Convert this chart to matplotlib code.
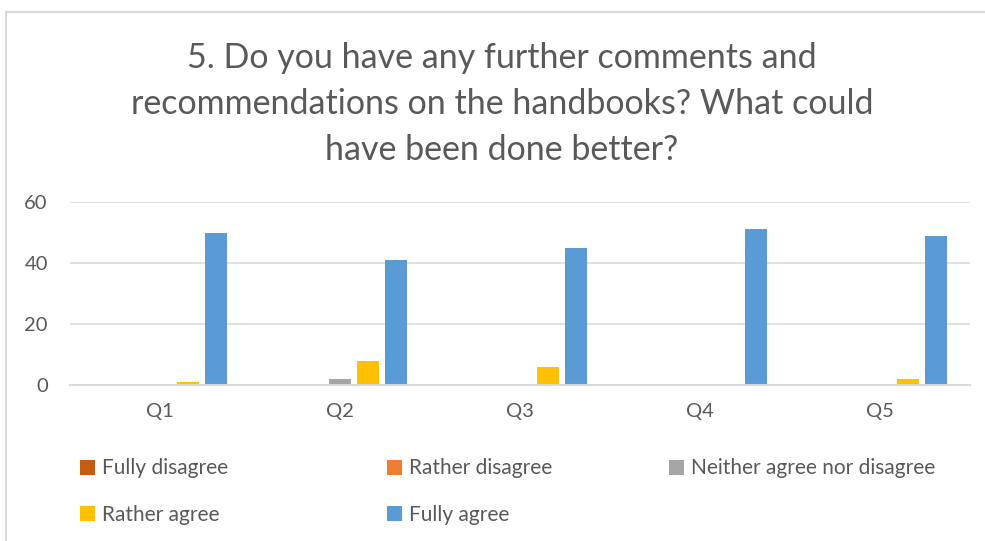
import matplotlib.pyplot as plt
from matplotlib.lines import Line2D
from matplotlib.patches import Patch
import numpy as np

plt.rcParams['font.family'] = ['Lato', 'DejaVu Sans']

categories = ['Q1', 'Q2', 'Q3', 'Q4', 'Q5']
series_names = ['Fully disagree', 'Rather disagree', 'Neither agree nor disagree',
                'Rather agree', 'Fully agree']
fully_disagree = [0, 0, 0, 0, 0]
rather_disagree = [0, 0, 0, 0, 0]
neither = [0, 2, 0, 0, 0]
rather_agree = [1, 8, 6, 0, 2]
fully_agree = [50, 41, 45, 51, 49]
colors = ['#C55A11', '#ED7D31', '#A5A5A5', '#FFC000', '#5B9BD5']
yticks = [0, 20, 40, 60]

text_col = '#595959'
grid_col = '#D9D9D9'

fig = plt.figure(figsize=(9.85, 5.41), dpi=100)
ax = fig.add_axes([70 / 985, 1 - 385 / 541, 900 / 985, 183 / 541])

x = np.arange(len(categories))
slot = 0.156
width = 0.122
all_series = [fully_disagree, rather_disagree, neither, rather_agree, fully_agree]
handles = []
for i, (vals, name, c) in enumerate(zip(all_series, series_names, colors)):
    ax.bar(x + (i - 2) * slot, vals, width=width, color=c, zorder=3)
    handles.append(Patch(facecolor=c, edgecolor='none', label=name))

ax.set_xlim(-0.5, 4.5)
ax.set_ylim(0, 60)
ax.set_yticks(yticks)
ax.set_xticks(x)
ax.set_xticklabels(categories)
ax.tick_params(length=0, labelsize=14.5, colors=text_col)
ax.tick_params(axis='y', pad=16)
ax.tick_params(axis='x', pad=13)
ax.yaxis.grid(True, color=grid_col, linewidth=1.1, zorder=0)
for s in ['top', 'right', 'left']:
    ax.spines[s].set_visible(False)
ax.spines['bottom'].set_color(grid_col)
ax.spines['bottom'].set_linewidth(1.5)
ax.spines['bottom'].set_zorder(4)

fig.text(502 / 985, 1 - 104 / 541,
         '5. Do you have any further comments and\n'
         'recommendations on the handbooks? What could\n'
         'have been done better?',
         ha='center', va='center', fontsize=24.5, color=text_col, linespacing=1.53)

# legend, one column at a time to get the spacing
col_pos = [(70, [0, 3]), (377, [1, 4]), (659, [2])]
for xpos, idx in col_pos:
    leg = fig.legend(handles=[handles[k] for k in idx], loc='upper left',
                     bbox_to_anchor=(xpos / 985, 1 - 448 / 541), frameon=False,
                     fontsize=15, handlelength=0.72, handleheight=0.72,
                     handletextpad=0.3, labelspacing=1.28, borderpad=0)
    for t in leg.get_texts():
        t.set_color(text_col)

# chart border
fig.add_artist(Line2D([6 / 985, 6 / 985], [0, 1 - 12 / 541], color=grid_col, lw=1.5))
fig.add_artist(Line2D([6 / 985, 1], [1 - 12 / 541, 1 - 12 / 541], color=grid_col, lw=1.5))

fig.savefig('out.png', dpi=100, facecolor='white')
